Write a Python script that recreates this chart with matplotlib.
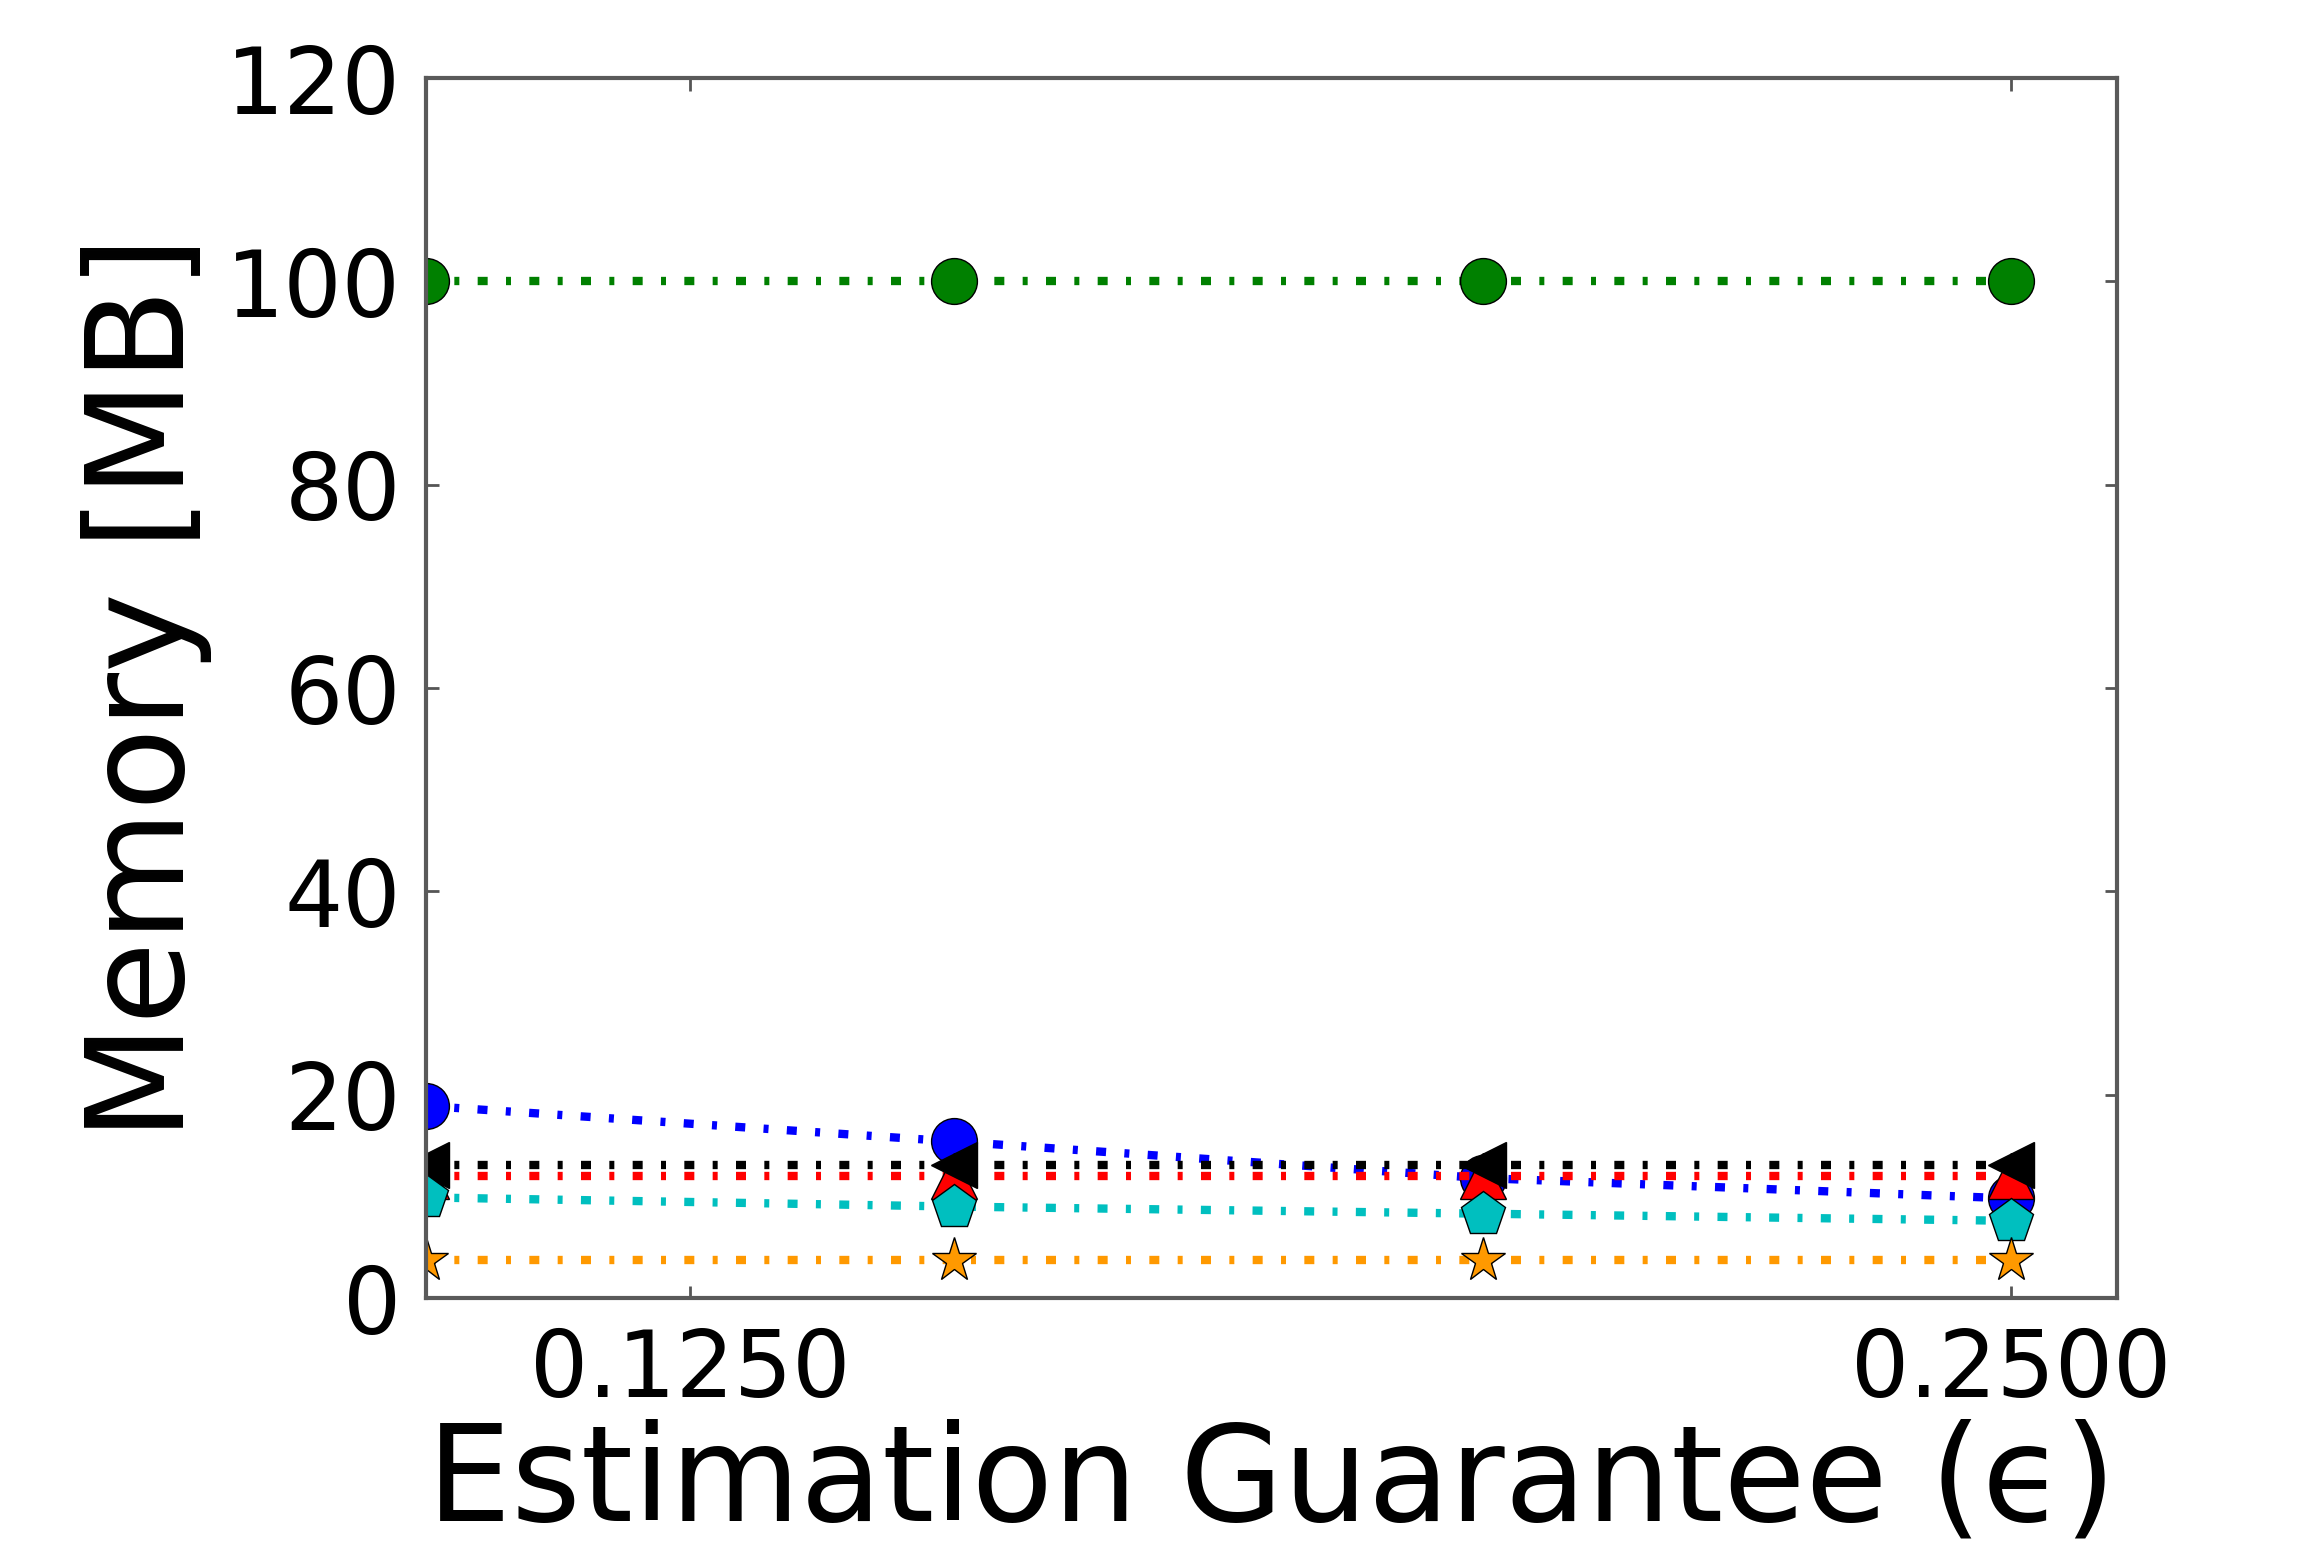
import matplotlib
matplotlib.use("Agg")
import matplotlib.pyplot as plt

# ---- data ----
eps = [0.10, 0.15, 0.20, 0.25]
green_mem = [100, 100, 100, 100]
blue_mem = [18.9, 15.4, 11.8, 9.8]
red_mem = [12.0, 12.0, 12.0, 12.0]
black_mem = [13.1, 13.1, 13.1, 13.1]
cyan_mem = [9.9, 9.0, 8.3, 7.6]
orange_mem = [3.7, 3.7, 3.7, 3.7]

xticks = [0.125, 0.25]
xtick_labels = ["0.1250", "0.2500"]
yticks = [0, 20, 40, 60, 80, 100, 120]

plt.rcParams['font.family'] = ['DejaVu Sans']

fig = plt.figure(figsize=(23.05, 15.49), dpi=100)
ax = fig.add_axes([0.1848, 0.1620, 0.9184 - 0.1848, 0.9496 - 0.1620])

ls = (0, (1.2, 2.2, 0.6, 2.2))
lw = 6
ms = 33
common = dict(linestyle=ls, linewidth=lw, markersize=ms,
              markeredgecolor='black', markeredgewidth=1.0,
              dash_capstyle='butt')

series = [
    (green_mem, 'green', 'o'),
    (blue_mem, 'blue', 'o'),
    (red_mem, 'red', '^'),
    (black_mem, 'black', '<'),
    (cyan_mem, 'c', 'p'),
    (orange_mem, '#ff9900', '*'),
]
for vals, col, mk in series:
    ax.plot(eps, vals, color=col, marker=mk, markerfacecolor=col, **common)

ax.set_xlim(0.1, 0.26)
ax.set_ylim(0, 120)
ax.set_xticks(xticks)
ax.set_xticklabels(xtick_labels)
ax.set_yticks(yticks)

ax.tick_params(axis='both', which='major', direction='in', length=9, width=2,
               color='#555555', labelsize=66, top=True, right=True,
               labelcolor='black')
ax.tick_params(axis='x', pad=20)
ax.tick_params(axis='y', pad=18)

for sp in ax.spines.values():
    sp.set_color('#5a5a5a')
    sp.set_linewidth(3)

ax.set_xlabel('Estimation Guarantee (\u03f5)', fontsize=96, labelpad=2)
ax.set_ylabel('Memory [MB]', fontsize=97, labelpad=10)

fig.savefig('out.png', dpi=100, facecolor='white')
